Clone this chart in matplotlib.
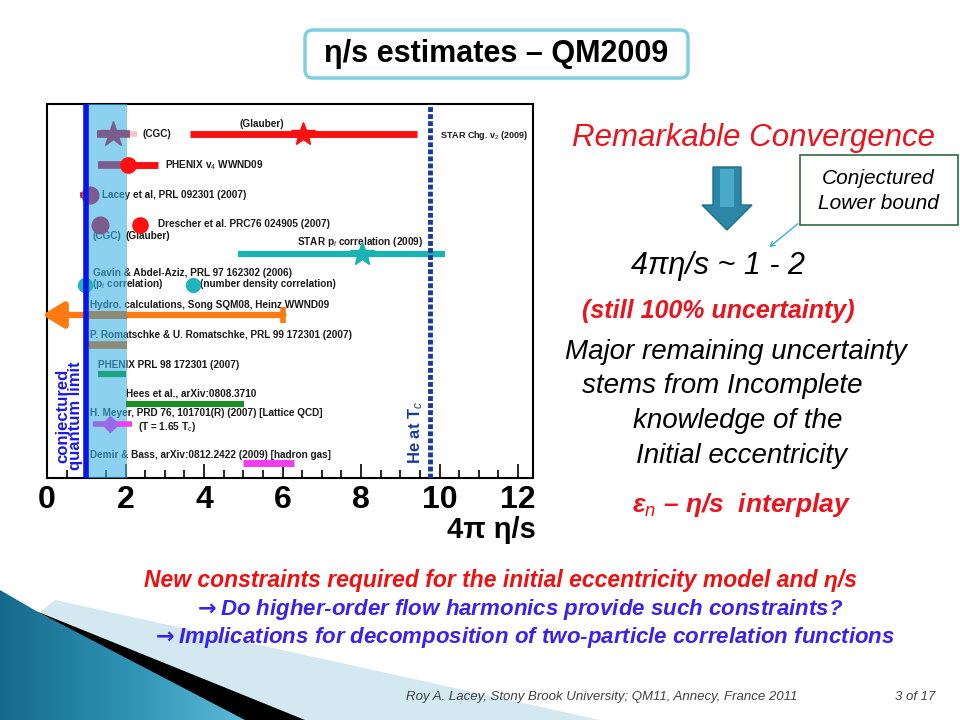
import numpy as np
import matplotlib
matplotlib.use('Agg')
import matplotlib.pyplot as plt
from matplotlib.patches import Polygon, FancyBboxPatch, Rectangle

plt.rcParams['font.family'] = ['Liberation Sans', 'DejaVu Sans']
plt.rcParams['mathtext.fontset'] = 'custom'
plt.rcParams['mathtext.rm'] = 'Liberation Sans'
plt.rcParams['mathtext.it'] = 'Liberation Sans:italic'
plt.rcParams['mathtext.bf'] = 'Liberation Sans:bold'
plt.rcParams['mathtext.sf'] = 'DejaVu Sans:bold'

# ---- chart data: x = 4*pi*eta/s, y = row position (top -> bottom) ----
bar_lo = [1.27, 2.11, 3.64, 1.30, 2.06, 0.85, 4.87, 1.00, 1.00, 1.30, 2.00, 1.17, 1.80, 5.00]
bar_hi = [2.11, 2.28, 9.43, 2.06, 2.83, 1.10, 10.14, 2.03, 2.03, 2.00, 5.02, 1.80, 2.17, 6.30]
bar_y = [134, 134, 134, 165, 165, 195, 254, 315, 345, 374, 404, 424, 424, 463]
bar_col = ['#7b5c8c', '#f8c4c4', '#ff1010', '#7b5c8c', '#ff1010', '#ff1010', '#1ab2b2',
           '#8c8c78', '#8c8c78', '#1fa184', '#1e8c2a', '#9a6ae6', '#f23cf0', '#f23cf0']
bar_lw = [5.5, 4, 5, 5.5, 5, 4, 4.5, 5.5, 5.5, 4.5, 4.5, 4, 4, 5]

mk_x = [1.68, 6.52, 8.03, 2.06, 1.10, 1.35, 2.37, 0.97, 3.73, 1.60]
mk_y = [134, 134, 254, 165, 195, 225, 225, 285, 285, 424]
mk_sym = ['*', '*', '*', 'o', 'o', 'o', 'o', 'o', 'o', 'D']
mk_col = ['#7b5c8c', '#ff1010', '#1ab2b2', '#ff1010', '#7b5c8c', '#7b5c8c', '#ff1010',
          '#22b4bc', '#22b4bc', '#9a6ae6']
mk_ms = [19, 18, 18, 11, 12, 12, 11, 10, 10, 8]

# hydro range: arrow to lower values, capped at upper end
hydro_lo, hydro_hi, hydro_y = -0.12, 6.02, 315

lab_txt = ['(CGC)', '(Glauber)', 'STAR Chg. v$_2$ (2009)', 'PHENIX v$_4$ WWND09',
           'Lacey et al, PRL 092301 (2007)', 'Drescher et al. PRC76 024905 (2007)',
           '(CGC)', '(Glauber)', 'STAR p$_t$ correlation (2009)',
           'Gavin & Abdel-Aziz, PRL 97 162302 (2006)', '(p$_t$ correlation)',
           '(number density correlation)', 'Hydro. calculations, Song SQM08, Heinz WWND09',
           'P. Romatschke & U. Romatschke, PRL 99 172301 (2007)', 'PHENIX PRL 98 172301 (2007)',
           'Hees et al., arXiv:0808.3710', 'H. Meyer, PRD 76, 101701(R) (2007) [Lattice QCD]',
           '(T = 1.65 T$_c$)', 'Demir & Bass, arXiv:0812.2422 (2009) [hadron gas]']
lab_x = [2.80, 5.48, 10.0, 3.00, 1.40, 2.83, 1.53, 2.57, 7.97, 1.17, 1.15, 3.90,
         1.10, 1.10, 1.30, 2.00, 1.10, 2.32, 1.10]
lab_y = [134, 124, 135, 165, 195, 224, 236, 236, 242, 273, 284, 284,
         305, 335, 365, 394, 413, 427, 455]
lab_ha = ['center', 'center', 'left', 'left', 'left', 'left', 'center', 'center', 'center',
          'left', 'left', 'left', 'left', 'left', 'left', 'left', 'left', 'left', 'left']

kss_bound = 1.0
band_lo, band_hi = 1.0, 2.03
he_tc = 9.76
xticks = [0, 2, 4, 6, 8, 10, 12]

para_lines = ['Major remaining uncertainty', 'stems from Incomplete', 'knowledge of the',
              'Initial eccentricity']
para_x = [736, 722, 738, 741]
para_y = [352, 386, 421, 456]

fig = plt.figure(figsize=(9.6, 7.2), dpi=100)

# ---- slide background layer ----
sl = fig.add_axes([0, 0, 1, 1])
sl.set_xlim(0, 960)
sl.set_ylim(720, 0)
sl.axis('off')

# bottom-left decoration
pale = Polygon([(55, 600), (600, 720), (300, 720), (40, 612)], closed=True,
               facecolor='#d3e8f0', edgecolor='none')
sl.add_patch(pale)
teal = Polygon([(0, 590), (0, 720), (250, 720), (38, 612)], closed=True,
               facecolor='none', edgecolor='none')
sl.add_patch(teal)
grad = np.linspace(0, 1, 256).reshape(1, -1)
cm = matplotlib.colors.LinearSegmentedColormap.from_list('tl', ['#156a8a', '#2f93b5', '#63bfdc'])
im = sl.imshow(grad, extent=[0, 260, 720, 590], cmap=cm, aspect='auto', zorder=1)
im.set_clip_path(teal)
wedge = Polygon([(36, 611), (305, 720), (245, 720)], closed=True, facecolor='black',
                edgecolor='none', zorder=2)
sl.add_patch(wedge)

# title box
tb = FancyBboxPatch((305, 30), 383, 48, boxstyle='round,pad=0,rounding_size=8',
                    facecolor='white', edgecolor='#7fcfe0', linewidth=2.5)
sl.add_patch(tb)
sl.text(496, 54, 'η/s estimates – QM2009', fontsize=22, fontweight='bold',
        ha='center', va='center')

sl.text(754, 138, 'Remarkable Convergence', fontsize=22.5, style='italic', color='#e8141e',
        ha='center', va='center')

# block arrow
arr = Polygon([(713, 167), (741, 167), (741, 205), (752, 205), (727, 230), (702, 205), (713, 205)],
              closed=True, facecolor='#2c87a6', edgecolor='#1f6f8c', linewidth=1)
sl.add_patch(arr)
sl.add_patch(Rectangle((720, 169), 14, 38, facecolor='#4aa9c6', edgecolor='none'))

sl.add_patch(Rectangle((800, 155), 158, 70, facecolor='white', edgecolor='#2e6b45', linewidth=1.2))
sl.text(878, 191, 'Conjectured\nLower bound', fontsize=15, style='italic', ha='center',
        va='center', linespacing=1.35)
sl.annotate('', xy=(767, 249), xytext=(800, 222),
            arrowprops=dict(arrowstyle='->', color='#3fb0d8', lw=1, mutation_scale=8))

sl.text(718, 266, '4πη/s ~ 1 - 2', fontsize=22, style='italic', ha='center', va='center')
sl.text(718, 311, '(still 100% uncertainty)', fontsize=18, style='italic', fontweight='bold',
        color='#e8141e', ha='center', va='center')
for t, x, y in zip(para_lines, para_x, para_y):
    sl.text(x, y, t, fontsize=20, style='italic', ha='center', va='center')
sl.text(741, 505, 'ε$_n$ – η/s  interplay', fontsize=19, style='italic', fontweight='bold',
        color='#e8141e', ha='center', va='center')

sl.text(501, 580, 'New constraints required for the initial eccentricity model and η/s',
        fontsize=16.5, style='italic', fontweight='bold', color='#ee1111', ha='center', va='center')
sl.text(519, 609, r'$\mathsf{\rightarrow}$Do higher-order flow harmonics provide such constraints?',
        fontsize=16, style='italic', fontweight='bold', color='#3a22e6', ha='center', va='center')
sl.text(524, 638, r'$\mathsf{\rightarrow}$Implications for decomposition of two-particle correlation functions',
        fontsize=16, style='italic', fontweight='bold', color='#3a22e6', ha='center', va='center')
sl.text(602, 697, 'Roy A. Lacey, Stony Brook University; QM11, Annecy, France 2011',
        fontsize=9.5, style='italic', color='#404040', ha='center', va='center')
sl.text(935, 697, '3 of 17', fontsize=9.5, style='italic', color='#404040', ha='right', va='center')

# ---- the eta/s chart ----
ax = fig.add_axes([47 / 960, 1 - 478 / 720, 486 / 960, 374 / 720])
ax.set_xlim(0, 12.38)
ax.set_ylim(478, 104)
ax.set_facecolor('white')

for t, x, y, ha in zip(lab_txt, lab_x, lab_y, lab_ha):
    fs = 6.5 if t.startswith('STAR Chg') else 7.2
    ax.text(x, y, t, fontsize=fs, fontweight='bold', color='#1a1a1a', ha=ha, va='center', zorder=2)

ax.axvspan(band_lo, band_hi, color=(63 / 255, 180 / 255, 230 / 255), alpha=0.6, lw=0, zorder=3)

for lo, hi, y, c, lw in zip(bar_lo, bar_hi, bar_y, bar_col, bar_lw):
    ax.plot([lo, hi], [y, y], color=c, lw=lw, solid_capstyle='butt', zorder=4)

ax.annotate('', xy=(hydro_lo, hydro_y), xytext=(hydro_hi, hydro_y), annotation_clip=False,
            arrowprops=dict(arrowstyle='-|>,head_length=0.9,head_width=0.55', color='#ff7a10',
                            lw=4.5, mutation_scale=14, shrinkA=0, shrinkB=0), zorder=4)
ax.plot([hydro_hi], [hydro_y], marker='|', ms=12, mew=4, color='#ff7a10', zorder=4)
ax.plot([band_lo, band_hi], [hydro_y, hydro_y], color='#8c8c78', lw=5.5, solid_capstyle='butt', zorder=5)

for x, y, m, c, s in zip(mk_x, mk_y, mk_sym, mk_col, mk_ms):
    ax.plot([x], [y], marker=m, ms=s, color=c, mec=c, ls='none', zorder=6, clip_on=False)

ax.axvline(kss_bound, color='#0a14e6', lw=4, zorder=7)
ax.axvline(he_tc, color='#1a3a9a', lw=3.5, ls=(0, (1.0, 0.45)), zorder=7)

ax.text(0.56, 416, 'conjectured\nquantum limit', rotation=90, fontsize=12, fontweight='bold',
        color='#1a1ae6', ha='center', va='center', linespacing=0.85, zorder=8)
ax.text(9.38, 432, 'He at T$_c$', rotation=90, fontsize=12, fontweight='bold',
        color='#1a3a9a', ha='center', va='center', zorder=8)

ax.set_yticks([])
ax.set_xticks(xticks)
ax.set_xticks(np.arange(0, 12.4, 0.5), minor=True)
ax.set_xticklabels([str(v) for v in xticks], fontsize=23, fontweight='bold')
ax.tick_params(axis='x', which='major', direction='in', length=10, width=1.2, pad=5)
ax.tick_params(axis='x', which='minor', direction='in', length=6, width=1.2)
for s in ax.spines.values():
    s.set_linewidth(1.5)

sl.text(536, 530, '4π η/s', fontsize=21, fontweight='bold', ha='right', va='center')

fig.savefig('out.png', dpi=100)
